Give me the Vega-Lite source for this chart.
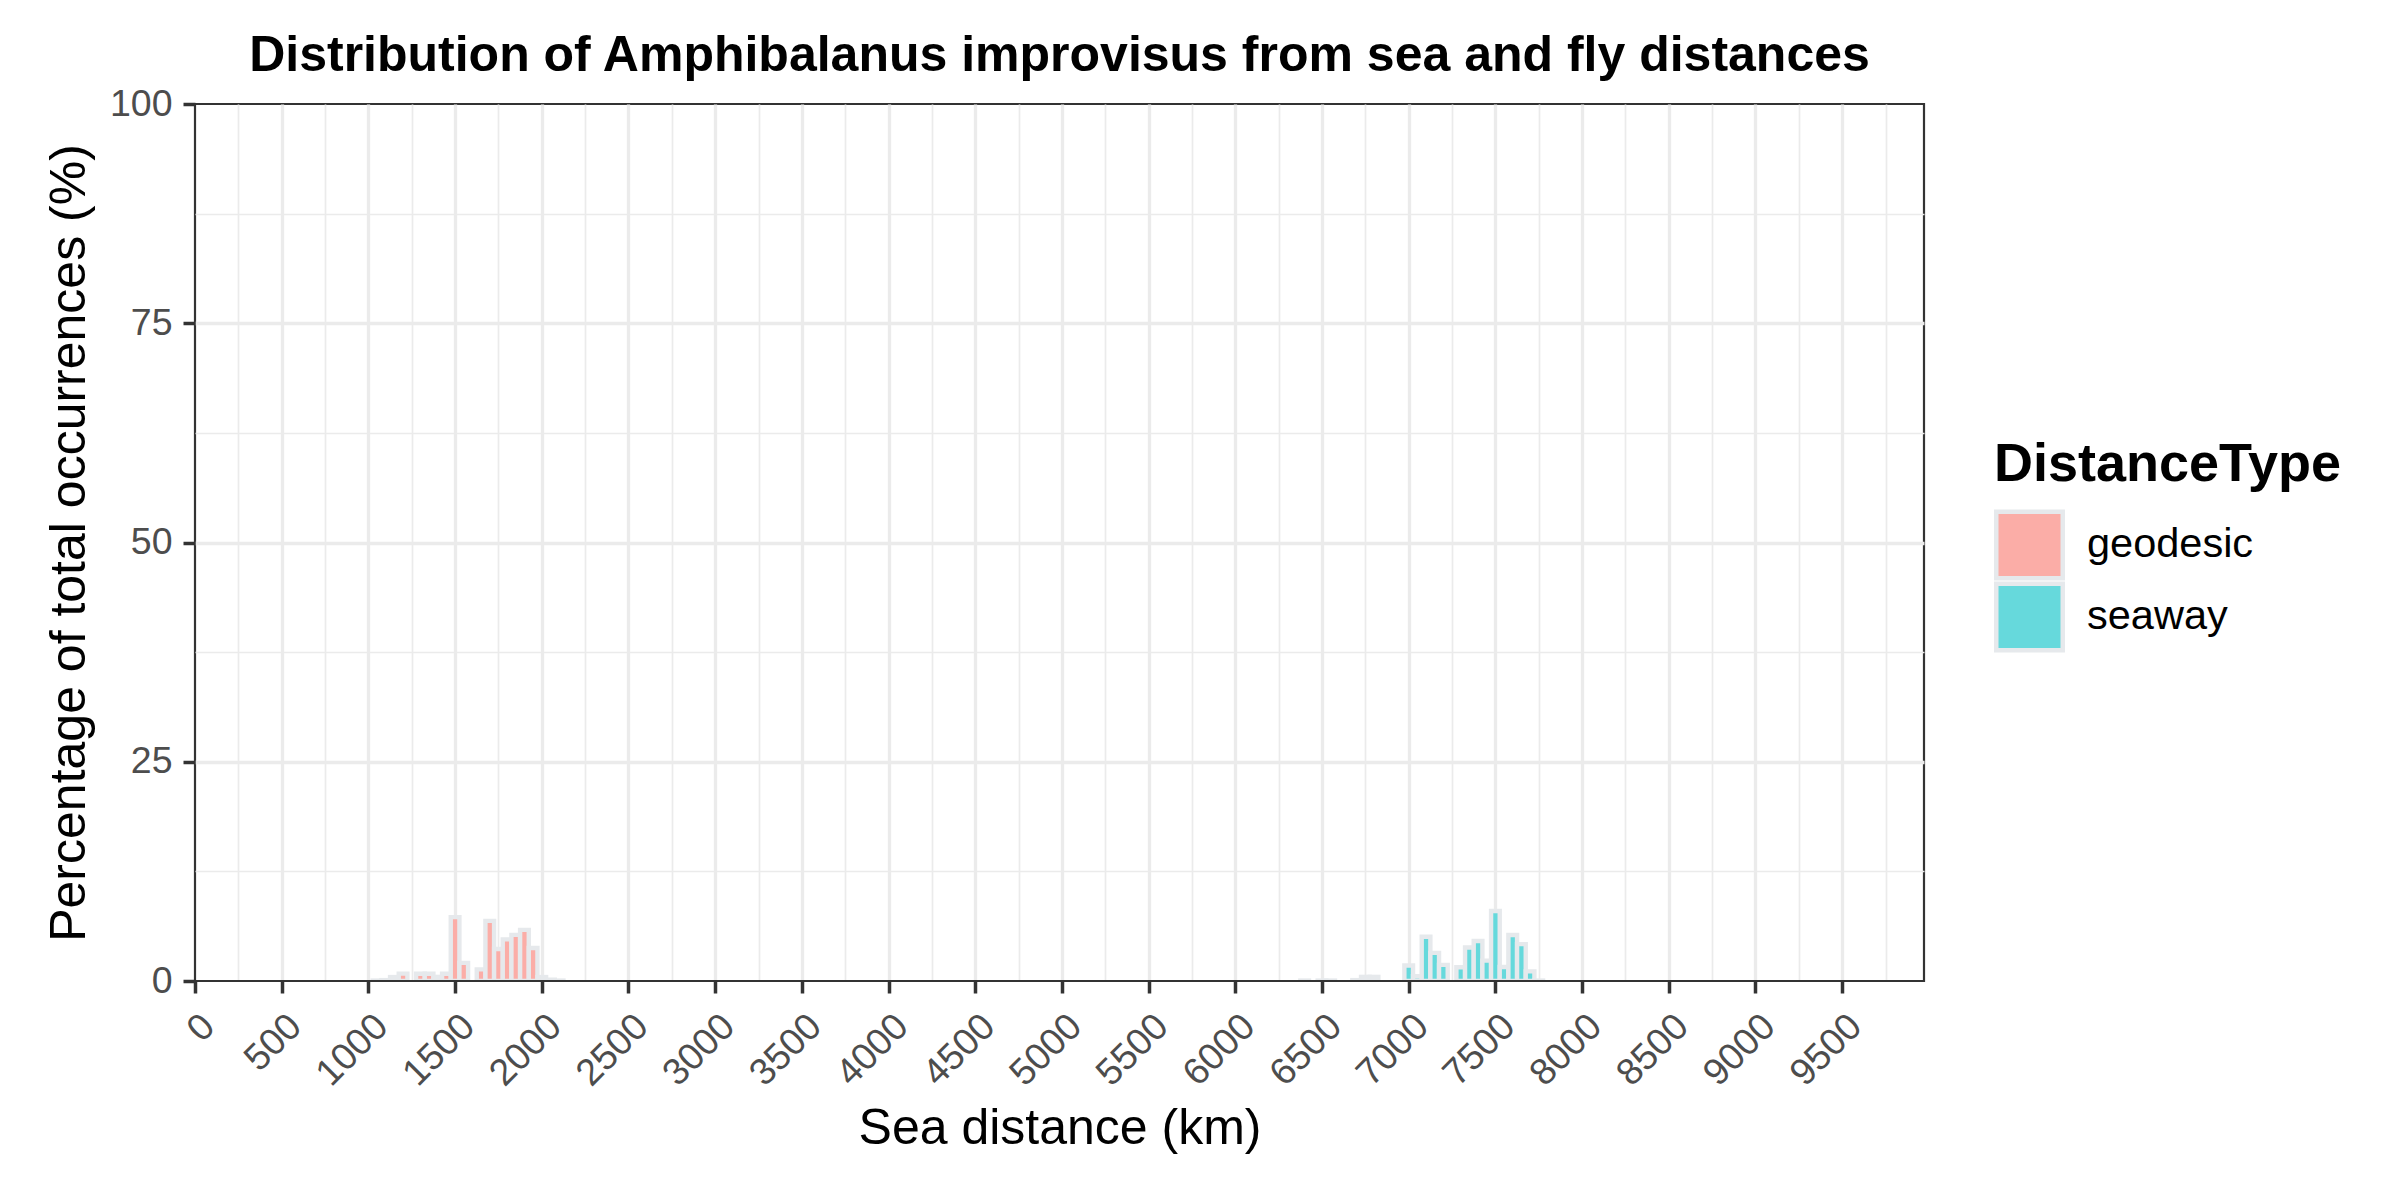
{
  "$schema": "https://vega.github.io/schema/vega-lite/v6.json",
  "width": 1729,
  "height": 877,
  "autosize": {"type": "none"},
  "padding": {"left": 195, "top": 104, "right": 476, "bottom": 219},
  "title": {
    "text": "Distribution of Amphibalanus improvisus from sea and fly distances",
    "fontSize": 50,
    "fontWeight": "bold",
    "color": "#000000",
    "anchor": "middle",
    "frame": "group",
    "baseline": "alphabetic",
    "offset": -36
  },
  "data": {
    "values": [
      {"dist_start": 1025, "dist_end": 1075, "type": "geodesic", "pct": 0.05},
      {"dist_start": 1075, "dist_end": 1125, "type": "geodesic", "pct": 0.1},
      {"dist_start": 1125, "dist_end": 1175, "type": "geodesic", "pct": 0.45},
      {"dist_start": 1175, "dist_end": 1225, "type": "geodesic", "pct": 0.84},
      {"dist_start": 1275, "dist_end": 1325, "type": "geodesic", "pct": 0.82},
      {"dist_start": 1325, "dist_end": 1375, "type": "geodesic", "pct": 0.82},
      {"dist_start": 1375, "dist_end": 1425, "type": "geodesic", "pct": 0.47},
      {"dist_start": 1425, "dist_end": 1475, "type": "geodesic", "pct": 0.82},
      {"dist_start": 1475, "dist_end": 1525, "type": "geodesic", "pct": 7.28},
      {"dist_start": 1525, "dist_end": 1575, "type": "geodesic", "pct": 2.07},
      {"dist_start": 1625, "dist_end": 1675, "type": "geodesic", "pct": 1.33},
      {"dist_start": 1675, "dist_end": 1725, "type": "geodesic", "pct": 6.86},
      {"dist_start": 1725, "dist_end": 1775, "type": "geodesic", "pct": 3.65},
      {"dist_start": 1775, "dist_end": 1825, "type": "geodesic", "pct": 4.75},
      {"dist_start": 1825, "dist_end": 1875, "type": "geodesic", "pct": 5.26},
      {"dist_start": 1875, "dist_end": 1925, "type": "geodesic", "pct": 5.83},
      {"dist_start": 1925, "dist_end": 1975, "type": "geodesic", "pct": 3.76},
      {"dist_start": 1975, "dist_end": 2025, "type": "geodesic", "pct": 0.45},
      {"dist_start": 2025, "dist_end": 2075, "type": "geodesic", "pct": 0.15},
      {"dist_start": 2075, "dist_end": 2125, "type": "geodesic", "pct": 0.05},
      {"dist_start": 6375, "dist_end": 6425, "type": "seaway", "pct": 0.05},
      {"dist_start": 6475, "dist_end": 6525, "type": "seaway", "pct": 0.05},
      {"dist_start": 6525, "dist_end": 6575, "type": "seaway", "pct": 0.05},
      {"dist_start": 6675, "dist_end": 6725, "type": "seaway", "pct": 0.1},
      {"dist_start": 6725, "dist_end": 6775, "type": "seaway", "pct": 0.47},
      {"dist_start": 6775, "dist_end": 6825, "type": "seaway", "pct": 0.47},
      {"dist_start": 6975, "dist_end": 7025, "type": "seaway", "pct": 1.77},
      {"dist_start": 7025, "dist_end": 7075, "type": "seaway", "pct": 0.55},
      {"dist_start": 7075, "dist_end": 7125, "type": "seaway", "pct": 5.04},
      {"dist_start": 7125, "dist_end": 7175, "type": "seaway", "pct": 3.21},
      {"dist_start": 7175, "dist_end": 7225, "type": "seaway", "pct": 1.84},
      {"dist_start": 7275, "dist_end": 7325, "type": "seaway", "pct": 1.56},
      {"dist_start": 7325, "dist_end": 7375, "type": "seaway", "pct": 3.82},
      {"dist_start": 7375, "dist_end": 7425, "type": "seaway", "pct": 4.56},
      {"dist_start": 7425, "dist_end": 7475, "type": "seaway", "pct": 2.32},
      {"dist_start": 7475, "dist_end": 7525, "type": "seaway", "pct": 7.98},
      {"dist_start": 7525, "dist_end": 7575, "type": "seaway", "pct": 1.6},
      {"dist_start": 7575, "dist_end": 7625, "type": "seaway", "pct": 5.25},
      {"dist_start": 7625, "dist_end": 7675, "type": "seaway", "pct": 4.2},
      {"dist_start": 7675, "dist_end": 7725, "type": "seaway", "pct": 1.1},
      {"dist_start": 7725, "dist_end": 7775, "type": "seaway", "pct": 0.05}
    ]
  },
  "layer": [
    {
      "mark": {"type": "bar", "opacity": 0},
      "encoding": {
        "x": {
          "field": "dist_start",
          "type": "quantitative",
          "scale": {"domain": [0, 9972], "nice": false, "zero": false},
          "axis": {
            "orient": "top",
            "values": [250, 750, 1250, 1750, 2250, 2750, 3250, 3750, 4250, 4750, 5250, 5750, 6250, 6750, 7250, 7750, 8250, 8750, 9250, 9750],
            "grid": true,
            "gridColor": "#EBEBEB",
            "gridWidth": 1.7,
            "labels": false,
            "ticks": false,
            "domain": false,
            "minExtent": 0,
            "maxExtent": 0,
            "title": null
          }
        },
        "x2": {"field": "dist_end"},
        "y": {
          "field": "pct",
          "type": "quantitative",
          "scale": {"domain": [0, 100], "nice": false},
          "axis": {
            "orient": "right",
            "values": [12.5, 37.5, 62.5, 87.5],
            "grid": true,
            "gridColor": "#EBEBEB",
            "gridWidth": 1.7,
            "labels": false,
            "ticks": false,
            "domain": false,
            "minExtent": 0,
            "maxExtent": 0,
            "title": null
          }
        },
        "y2": {"datum": 0}
      }
    },
    {
      "mark": {"type": "bar", "opacity": 0},
      "encoding": {
        "x": {
          "field": "dist_start",
          "type": "quantitative",
          "scale": {"domain": [0, 9972], "nice": false, "zero": false},
          "axis": {
            "orient": "top",
            "values": [500, 1000, 1500, 2000, 2500, 3000, 3500, 4000, 4500, 5000, 5500, 6000, 6500, 7000, 7500, 8000, 8500, 9000, 9500],
            "grid": true,
            "gridColor": "#EBEBEB",
            "gridWidth": 3.3,
            "labels": false,
            "ticks": false,
            "domain": false,
            "minExtent": 0,
            "maxExtent": 0,
            "title": null
          }
        },
        "x2": {"field": "dist_end"},
        "y": {
          "field": "pct",
          "type": "quantitative",
          "scale": {"domain": [0, 100], "nice": false},
          "axis": {
            "orient": "right",
            "values": [25, 50, 75],
            "grid": true,
            "gridColor": "#EBEBEB",
            "gridWidth": 3.3,
            "labels": false,
            "ticks": false,
            "domain": false,
            "minExtent": 0,
            "maxExtent": 0,
            "title": null
          }
        },
        "y2": {"datum": 0}
      }
    },
    {
      "mark": {"type": "bar", "stroke": "#E6E9EC", "strokeWidth": 4.4, "clip": true},
      "encoding": {
        "x": {
          "field": "dist_start",
          "type": "quantitative",
          "scale": {"domain": [0, 9972], "nice": false, "zero": false},
          "axis": {
            "orient": "bottom",
            "values": [0, 500, 1000, 1500, 2000, 2500, 3000, 3500, 4000, 4500, 5000, 5500, 6000, 6500, 7000, 7500, 8000, 8500, 9000, 9500],
            "format": "d",
            "grid": false,
            "domain": false,
            "ticks": true,
            "tickSize": 12,
            "tickWidth": 3.5,
            "tickColor": "#333333",
            "labelAngle": -45,
            "labelAlign": "right",
            "labelBaseline": "top",
            "labelPadding": 14,
            "labelFontSize": 37.5,
            "labelColor": "#4D4D4D",
            "labelOverlap": false,
            "labelFlush": false,
            "title": "Sea distance (km)",
            "titleFontSize": 50,
            "titleFontWeight": "normal",
            "titleColor": "#000000",
            "titlePadding": 11
          }
        },
        "x2": {"field": "dist_end"},
        "y": {
          "field": "pct",
          "type": "quantitative",
          "scale": {"domain": [0, 100], "nice": false},
          "axis": {
            "orient": "left",
            "values": [0, 25, 50, 75, 100],
            "format": "d",
            "grid": false,
            "domain": false,
            "ticks": true,
            "tickSize": 12,
            "tickWidth": 3.5,
            "tickColor": "#333333",
            "labelPadding": 11,
            "labelAlign": "right",
            "labelBaseline": "middle",
            "labelFontSize": 37.5,
            "labelColor": "#4D4D4D",
            "labelFlush": false,
            "labelOverlap": false,
            "title": "Percentage of total occurrences (%)",
            "titleFontSize": 50,
            "titleFontWeight": "normal",
            "titleColor": "#000000",
            "titlePadding": 15
          }
        },
        "y2": {"datum": 0},
        "color": {
          "field": "type",
          "type": "nominal",
          "scale": {"domain": ["geodesic", "seaway"], "range": ["#FBADA7", "#66D9DC"]},
          "legend": {
            "title": "DistanceType",
            "orient": "none",
            "legendX": 1799,
            "legendY": 334,
            "titleFontSize": 54,
            "titleFontWeight": "bold",
            "titleColor": "#000000",
            "titlePadding": 17,
            "titleLimit": 1000,
            "labelFontSize": 41.5,
            "labelColor": "#000000",
            "labelOffset": 22,
            "labelLimit": 1000,
            "symbolType": "square",
            "symbolSize": 4422,
            "symbolStrokeWidth": 4.5,
            "symbolStrokeColor": "#E6E9EC",
            "symbolOpacity": 1,
            "clipHeight": 72,
            "rowPadding": 0
          }
        }
      }
    },
    {
      "mark": {"type": "rule", "color": "#333333", "strokeWidth": 2.2},
      "encoding": {
        "y": {"datum": 0, "type": "quantitative", "axis": null}
      }
    }
  ],
  "resolve": {"axis": {"x": "independent", "y": "independent"}},
  "config": {
    "font": "Liberation Sans",
    "view": {"stroke": "#333333", "strokeWidth": 2.2},
    "background": "#FFFFFF"
  }
}
